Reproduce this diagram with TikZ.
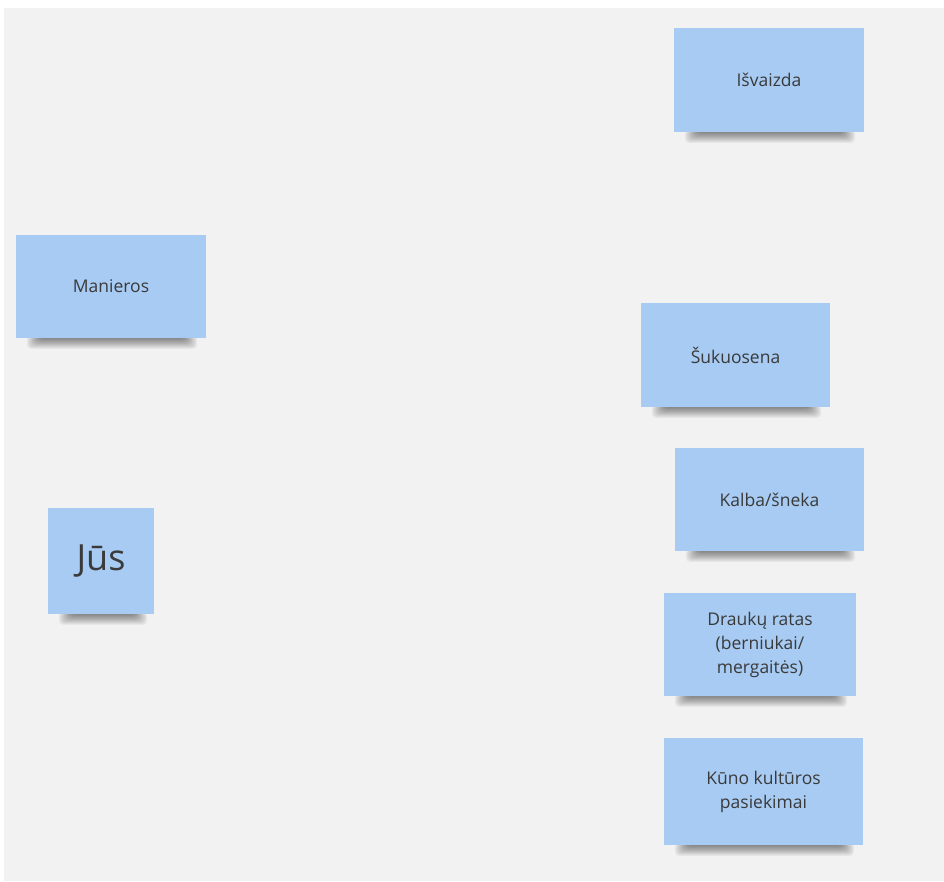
\documentclass[tikz,border=0pt]{standalone}
\usepackage{fontspec}
\setmainfont{Open Sans}
\definecolor{bggray}{HTML}{F2F2F2}
\definecolor{notefill}{HTML}{A7CBF2}
\definecolor{notetext}{HTML}{3A3A3A}
\tikzset{
  note/.style={fill=notefill, draw=none, text=notetext, align=center,
    font=\fontsize{17.5}{24}\selectfont, inner sep=0pt},
  bigtext/.style={font=\fontsize{36}{40}\selectfont},
  shadowlayer/.style={fill=black, fill opacity=0.045, draw=none, rounded corners=4pt}
}
\newcommand{\softshadow}[3]{% x1, x2, ybottom
  \foreach \i in {0,...,11}{
    \path[shadowlayer] ({#1+12-\i*1.2},{#3-2}) rectangle ({#2-12+\i*1.2},{#3+1+\i*0.9});
  }
}
\newcommand{\notebox}[6]{% name, x1, y1, x2, y2, text
  \softshadow{#2+12}{#4-10}{#5}
  \node[note, minimum width={#4-#2}, minimum height={#5-#3}] (#1) at ({(#2+#4)/2},{(#3+#5)/2}) {#6};
}
\begin{document}
\begin{tikzpicture}[x=1pt,y=-1pt]
\fill[white] (0,0) rectangle (944,881);
\fill[bggray] (4,8) rectangle (944,881);
\useasboundingbox (0,0) rectangle (944,881);
\notebox{isv}{674}{28}{864}{132}{Išvaizda}
\notebox{man}{16}{235}{206}{338}{Manieros}
\notebox{suk}{641}{303}{830}{407}{Šukuosena}
\notebox{kal}{675}{448}{864}{551}{Kalba/šneka}
\notebox{dra}{664}{593}{856}{696}{Draukų ratas\\(berniukai/\\mergaitės)}
\notebox{kun}{664}{738}{863}{845}{Kūno kultūros\\pasiekimai}
\softshadow{60}{146}{614}
\node[note, bigtext, minimum width=106pt, minimum height=106pt] (jus) at (101,561) {Jūs};
\end{tikzpicture}
\end{document}
